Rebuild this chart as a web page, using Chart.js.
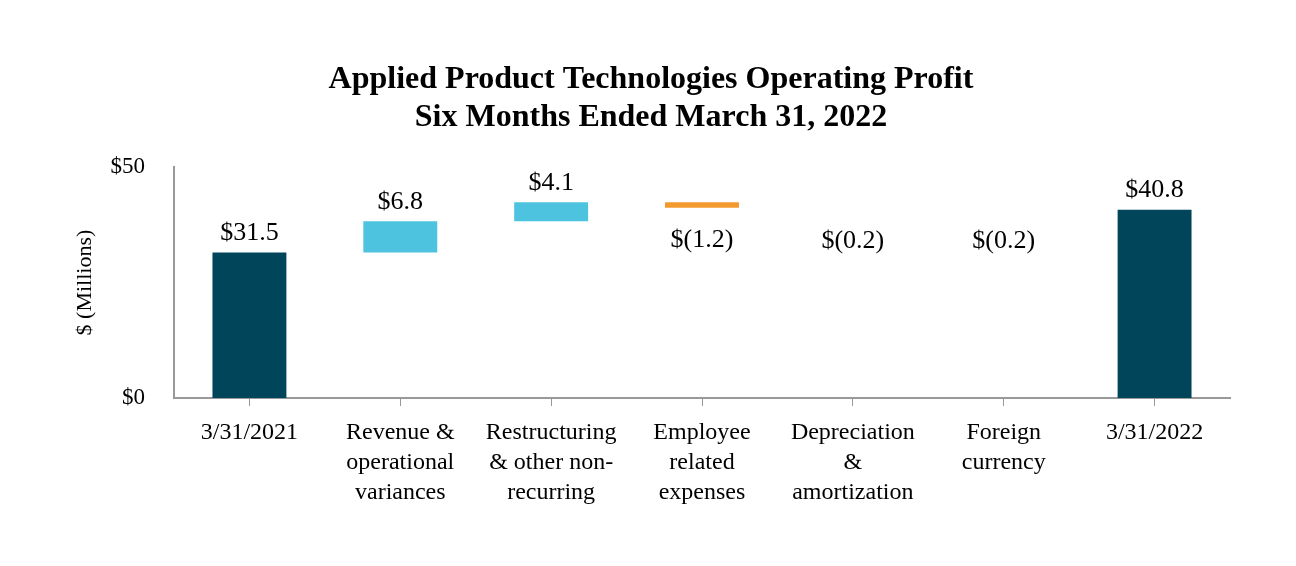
<!DOCTYPE html>
<html lang="en">
<head>
<meta charset="utf-8">
<script src="https://cdn.jsdelivr.net/npm/chart.js@4.4.1/dist/chart.umd.min.js"></script>
<style>
  html, body { margin: 0; padding: 0; background: #fff; }
  #wrap { width: 1296px; height: 566px; }
</style>
</head>
<body>
<div id="wrap"><canvas id="chart"></canvas></div>
<script>
"use strict";

// categories (multi-line labels)
var categories = [
  ["3/31/2021"],
  ["Revenue &", "operational", "variances"],
  ["Restructuring", "& other non-", "recurring"],
  ["Employee", "related", "expenses"],
  ["Depreciation", "&", "amortization"],
  ["Foreign", "currency"],
  ["3/31/2022"]
];
// change for each step ($ millions), totals at the ends
var changes = [31.5, 6.8, 4.1, -1.2, -0.2, -0.2, 40.8];
var isTotal = [true, false, false, false, false, false, true];
var valueLabels = ["$31.5", "$6.8", "$4.1", "$(1.2)", "$(0.2)", "$(0.2)", "$40.8"];
var yTicks = [0, 50];

var colTotal = "#00455A";
var colUp = "#4EC3E0";
var colDown = "#F39A2E";

// build floating bars
var ranges = [];
var colors = [];
var running = 0;
for (var i = 0; i < changes.length; i++) {
  if (isTotal[i]) {
    ranges.push([0, changes[i]]);
    running = changes[i];
    colors.push(colTotal);
  } else {
    var start = running;
    running = +(running + changes[i]).toFixed(2);
    ranges.push([start, running]);
    // the tiny steps are not visible in the original
    if (Math.abs(changes[i]) < 0.5) colors.push("rgba(0,0,0,0)");
    else colors.push(changes[i] > 0 ? colUp : colDown);
  }
}

var serif = "'Liberation Serif', 'Times New Roman', serif";

var valueLabelPlugin = {
  id: "valueLabels",
  afterDatasetsDraw: function(chart) {
    var ctx = chart.ctx;
    var meta = chart.getDatasetMeta(0);
    var ys = chart.scales.y;
    ctx.save();
    ctx.font = "26px " + serif;
    ctx.fillStyle = "#000";
    ctx.textAlign = "center";
    meta.data.forEach(function(bar, i) {
      var r = ranges[i];
      var hi = Math.max(r[0], r[1]);
      var lo = Math.min(r[0], r[1]);
      if (changes[i] >= 0) {
        ctx.textBaseline = "bottom";
        ctx.fillText(valueLabels[i], bar.x, ys.getPixelForValue(hi) - 6);
      } else {
        ctx.textBaseline = "top";
        ctx.fillText(valueLabels[i], bar.x, ys.getPixelForValue(lo) + 19);
      }
    });
    ctx.restore();
  }
};

var ctx1 = document.getElementById("chart");
var chart = new Chart(ctx1, {
  type: "bar",
  data: {
    labels: categories,
    datasets: [{
      data: ranges,
      backgroundColor: colors,
      borderWidth: 0,
      barPercentage: 0.49,
      categoryPercentage: 1.0
    }]
  },
  options: {
    responsive: true,
    maintainAspectRatio: false,
    animation: false,
    layout: { padding: { top: 61, left: 72, right: 66, bottom: 46 } },
    plugins: {
      legend: { display: false },
      tooltip: { enabled: false },
      title: {
        display: true,
        text: ["Applied Product Technologies Operating Profit", "Six Months Ended March 31, 2022"],
        color: "#000",
        font: { family: serif, size: 32, weight: "bold", lineHeight: 1.19 },
        padding: { top: 0, bottom: 30 }
      }
    },
    scales: {
      x: {
        grid: {
          display: true,
          drawOnChartArea: false,
          drawTicks: true,
          tickLength: 8,
          offset: false,
          color: "#999"
        },
        border: { display: true, color: "#999", width: 2 },
        ticks: {
          color: "#000",
          font: { family: serif, size: 24, lineHeight: 1.25 },
          maxRotation: 0,
          autoSkip: false,
          padding: 12
        }
      },
      y: {
        min: 0,
        max: 50,
        afterBuildTicks: function(axis) {
          axis.ticks = yTicks.map(function(v) { return { value: v }; });
        },
        afterFit: function(axis) { axis.width = 102; },
        grid: { display: false, drawTicks: false },
        border: { display: true, color: "#999", width: 2 },
        ticks: {
          color: "#000",
          font: { family: serif, size: 23 },
          padding: 29,
          callback: function(v) { return "$" + v; }
        },
        title: {
          display: true,
          text: "$ (Millions)",
          color: "#000",
          font: { family: serif, size: 22 },
          padding: { top: 0, bottom: 0 }
        }
      }
    }
  },
  plugins: [valueLabelPlugin]
});
</script>
</body>
</html>
